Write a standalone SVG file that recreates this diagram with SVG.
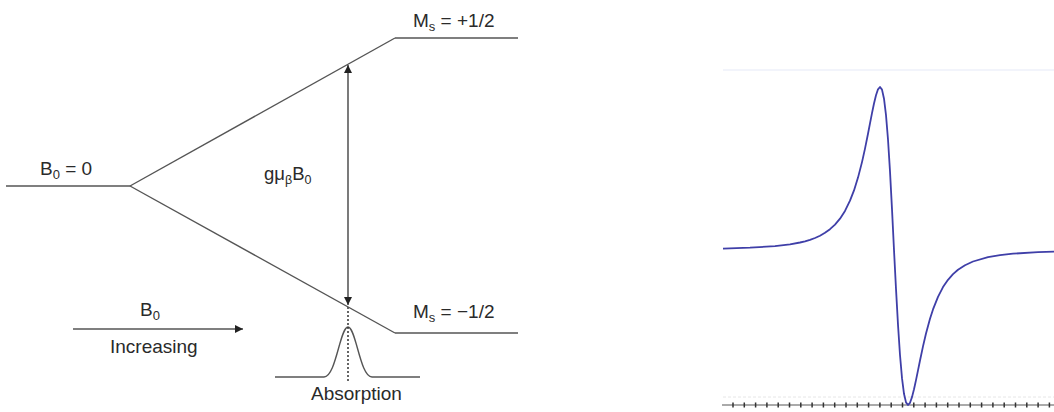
<svg xmlns="http://www.w3.org/2000/svg" width="1054" height="412" viewBox="0 0 1054 412">
  <style>
    .ln { fill: none; stroke: #555; stroke-width: 1.4; }
    .txt { font-family: "Liberation Sans", Arial, sans-serif; font-size: 19px; fill: #2a2a2a; }
    .sub { font-size: 13px; }
    .spec { fill: none; stroke: #3f3fa8; stroke-width: 1.8; stroke-linejoin: round; }
  </style>
  <defs>
    <marker id="ah" viewBox="0 0 10 10" refX="10" refY="5" markerWidth="8" markerHeight="8" markerUnits="userSpaceOnUse" orient="auto-start-reverse">
      <path d="M0,0 L10,5 L0,10 Z" fill="#222"/>
    </marker>
  </defs>
  <rect width="1054" height="412" fill="#fff"/>

  <g id="level-zero">
    <line class="ln" x1="6" y1="186" x2="130" y2="186"/>
    <text class="txt" x="40" y="175">B<tspan class="sub" dy="4">0</tspan><tspan dy="-4"> = 0</tspan></text>
  </g>
  <g id="level-upper">
    <line class="ln" x1="395" y1="38" x2="518" y2="38"/>
    <text class="txt" x="413" y="27">M<tspan class="sub" dy="4">s</tspan><tspan dy="-4"> = +1/2</tspan></text>
  </g>
  <g id="level-lower">
    <line class="ln" x1="395" y1="333" x2="518" y2="333"/>
    <text class="txt" x="413" y="318">M<tspan class="sub" dy="4">s</tspan><tspan dy="-4"> = −1/2</tspan></text>
  </g>
  <g id="energy-label">
    <text class="txt" x="264" y="180" style="font-size:18.5px">gμ<tspan class="sub" dy="4" style="font-size:12.5px">β</tspan><tspan dy="-4">B</tspan><tspan class="sub" dy="4" style="font-size:12.5px">0</tspan></text>
  </g>
  <g id="field-label">
    <text class="txt" x="140" y="316">B<tspan class="sub" dy="4">0</tspan></text>
    <text class="txt" x="110" y="353">Increasing</text>
  </g>
  <g id="absorption">
    <path class="ln" d="M275,377 L324,377 C336,377 340,327 348,327 C356,327 360,377 372,377 L420,377"/>
    <line x1="348" y1="307" x2="348" y2="382" stroke="#333" stroke-width="1.5" stroke-dasharray="2,2"/>
    <text class="txt" x="311" y="400">Absorption</text>
  </g>

  <g id="connectors">
    <line class="ln" x1="130" y1="186" x2="395" y2="38"/>
    <line class="ln" x1="130" y1="186" x2="395" y2="333"/>
    <line x1="348" y1="65" x2="348" y2="305" stroke="#333" stroke-width="1.3" marker-start="url(#ah)" marker-end="url(#ah)"/>
    <line x1="73" y1="329" x2="243" y2="329" stroke="#555" stroke-width="1.3" marker-end="url(#ah)"/>
  </g>

  <g id="epr-spectrum">
    <line x1="723" y1="70" x2="1054" y2="70" stroke="#eef0fa" stroke-width="1.5"/>
    <line x1="723" y1="397" x2="1054" y2="397" stroke="#e6e6e6" stroke-width="1" stroke-dasharray="3,2"/>
    <line x1="722" y1="405" x2="1054" y2="405" stroke="#aaa" stroke-width="2"/>
    <path stroke="#333" stroke-width="1.5" d="M733,402.5v5 M744.3,402.5v5 M755.6,402.5v5 M766.9,402.5v5 M778.2,402.5v5 M789.5,402.5v5 M800.8,402.5v5 M812.1,402.5v5 M823.4,402.5v5 M834.7,402.5v5 M846,402.5v5 M857.3,402.5v5 M868.6,402.5v5 M879.9,402.5v5 M891.2,402.5v5 M902.5,402.5v5 M913.8,402.5v5 M925.1,402.5v5 M936.4,402.5v5 M947.7,402.5v5 M959,402.5v5 M970.3,402.5v5 M981.6,402.5v5 M992.9,402.5v5 M1004.2,402.5v5 M1015.5,402.5v5 M1026.8,402.5v5 M1038.1,402.5v5 M1049.4,402.5v5"/>
    <polyline class="spec" points="723,248.6 750,247.7 775,246.1 790,244.3 800,242.5 805,241.3 810,239.8 815,238.0 820,235.7 825,232.8 830,229.2 835,224.6 840,218.7 845,210.9 850,200.7 854,190.4 858,177.6 862,162.1 865,148.6 868,133.8 870,123.4 872,113.2 874,103.5 876,95.2 878,89.3 880,87.0 882,89.6 884,98.7 886,115.1 888,139.5 890,171.4 892,209.1 894,250 896,288.9 898,324.7 900,355.0 902,378.2 904,393.8 906,402.4 908,405 910,402.8 912,397.1 914,389.2 916,380.1 918,370.4 920,360.5 923,346.4 926,333.5 930,318.8 933,309.4 938,296.8 943,287.1 948,279.8 953,274.1 958,269.7 965,265.2 973,261.5 988,257.2 1000,255.1 1013,253.7 1038,252.1 1054,251.6"/>
  </g>
</svg>
